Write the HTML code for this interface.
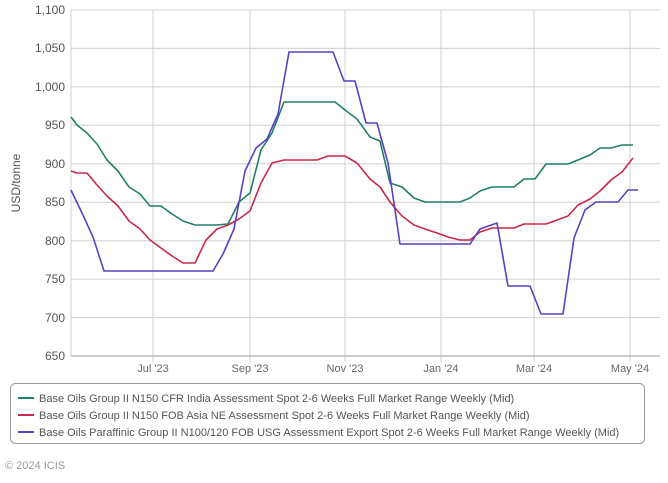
<!DOCTYPE html><html><head><style>body{margin:0;background:#fff;font-family:"Liberation Sans",sans-serif}</style></head><body>
<svg width="668" height="478" xmlns="http://www.w3.org/2000/svg" font-family="Liberation Sans, sans-serif">
<g stroke="#d0d0d0" stroke-width="1">
<line x1="71" y1="10" x2="660" y2="10"/><line x1="71" y1="48.4" x2="660" y2="48.4"/><line x1="71" y1="86.9" x2="660" y2="86.9"/><line x1="71" y1="125.3" x2="660" y2="125.3"/><line x1="71" y1="163.8" x2="660" y2="163.8"/><line x1="71" y1="202.2" x2="660" y2="202.2"/><line x1="71" y1="240.7" x2="660" y2="240.7"/><line x1="71" y1="279.1" x2="660" y2="279.1"/><line x1="71" y1="317.6" x2="660" y2="317.6"/>
<line x1="153" y1="10" x2="153" y2="362"/><line x1="250" y1="10" x2="250" y2="362"/><line x1="345" y1="10" x2="345" y2="362"/><line x1="441" y1="10" x2="441" y2="362"/><line x1="534" y1="10" x2="534" y2="362"/><line x1="630" y1="10" x2="630" y2="362"/>
<line x1="71" y1="10" x2="71" y2="356"/>
</g>
<line x1="71" y1="356" x2="660" y2="356" stroke="#bbb" stroke-width="1.5"/>
<g font-size="12" fill="#555" text-anchor="end">
<text x="65" y="14">1,100</text><text x="65" y="52">1,050</text><text x="65" y="91">1,000</text><text x="65" y="129">950</text><text x="65" y="168">900</text><text x="65" y="206">850</text><text x="65" y="245">800</text><text x="65" y="283">750</text><text x="65" y="322">700</text><text x="65" y="360">650</text>
</g>
<text transform="translate(20,183) rotate(-90)" font-size="12" fill="#555" text-anchor="middle">USD/tonne</text>
<g font-size="11" fill="#666" text-anchor="middle">
<text x="153" y="372">Jul '23</text><text x="250" y="372">Sep '23</text><text x="345" y="372">Nov '23</text><text x="441" y="372">Jan '24</text><text x="534" y="372">Mar '24</text><text x="630" y="372">May '24</text>
</g>
<g fill="none" stroke-width="1.6" stroke-linejoin="round">
<polyline stroke="#217e6b" points="71,117 77,125 87,133 97,144 107,160 118,171 129,187 140,194 150,206 161,206 172,214 183,221 195,225 206,225 217,225 228,224 239,202 250,193 261,150 272,133 284,102 295,102 335,102 345,110 357,119 370,137 380,141 390,183 402,187 414,198 425,202 460,202 470,198 480,191 492,187 514,187 524,179 535,179 546,164 568,164 578,160 590,155 600,148 611,148 622,145 633,145"/>
<polyline stroke="#c8294a" points="71,171 77,173 87,173 97,185 107,196 118,206 129,221 140,229 150,240 161,248 172,256 183,263 195,263 206,240 217,229 228,225 239,219 250,211 261,183 272,163 284,160 295,160 317,160 328,156 345,156 357,163 370,179 380,187 390,202 402,216 414,225 425,229 437,233 448,237 460,240 470,240 480,232 492,228 514,228 524,224 546,224 557,220 568,216 578,205 590,199 600,191 611,180 622,172 633,158"/>
<polyline stroke="#5b3fc4" points="71,190 82,213 93,237 104,271 115,271 213,271 223,254 234,229 245,171 256,148 267,139 278,114 289,52 333,52 344,81 355,81 366,123 377,123 388,163 400,244 470,244 480,229 497,223 508,286 530,286 541,314 563,314 574,238 585,210 596,202 618,202 628,190 638,190"/>
</g>
<rect x="10.5" y="383.5" width="634" height="60" rx="5" fill="none" stroke="#999"/>
<g font-size="11" fill="#555">
<line x1="18" y1="398" x2="34" y2="398" stroke="#217e6b" stroke-width="2"/><text x="39" y="402">Base Oils Group II N150 CFR India Assessment Spot 2-6 Weeks Full Market Range Weekly (Mid)</text>
<line x1="18" y1="415" x2="34" y2="415" stroke="#c8294a" stroke-width="2"/><text x="39" y="419">Base Oils Group II N150 FOB Asia NE Assessment Spot 2-6 Weeks Full Market Range Weekly (Mid)</text>
<line x1="18" y1="432" x2="34" y2="432" stroke="#5b3fc4" stroke-width="2"/><text x="39" y="436">Base Oils Paraffinic Group II N100/120 FOB USG Assessment Export Spot 2-6 Weeks Full Market Range Weekly (Mid)</text>
</g>
<text x="5" y="469" font-size="11" fill="#999">© 2024 ICIS</text>
</svg>
</body></html>
